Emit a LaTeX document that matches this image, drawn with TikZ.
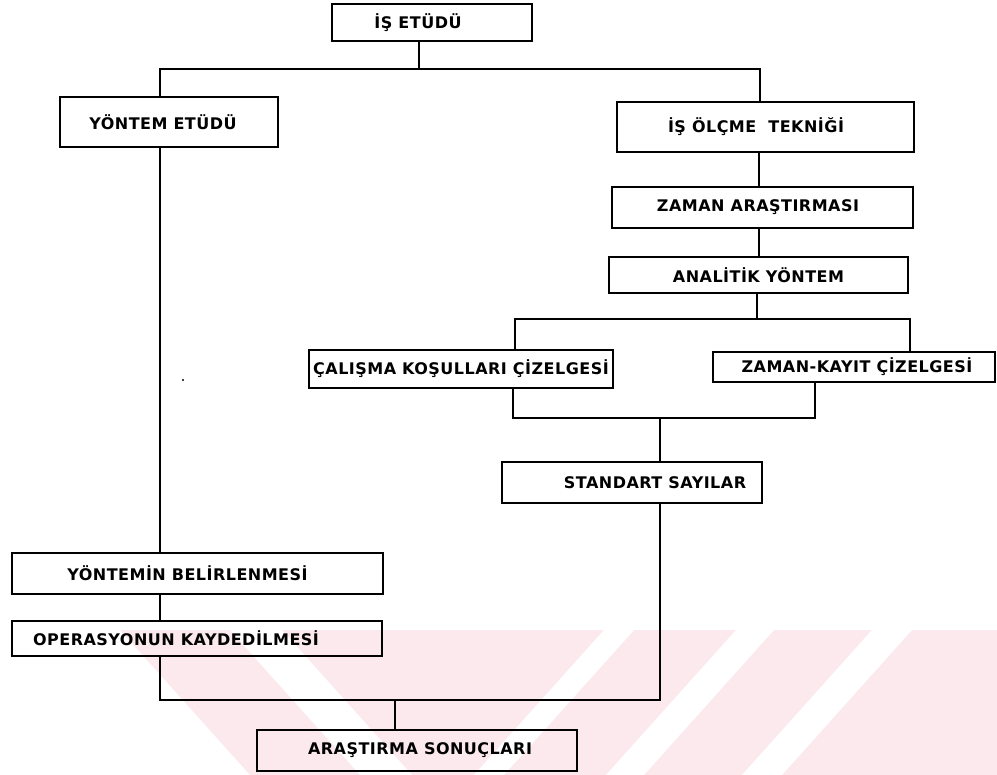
\documentclass[tikz,border=0pt]{standalone}
\usepackage{fontspec}
\setmainfont{DejaVu Sans}[LetterSpace=3]
\usetikzlibrary{calc}
\definecolor{wm}{RGB}{252,233,238}
\tikzset{
  box/.style={draw, line width=2.8pt, rectangle, inner sep=0pt,
    font=\fontsize{16}{19}\selectfont\bfseries},
  conn/.style={line width=2.2pt},
}
\begin{document}
\begin{tikzpicture}[x=1pt,y=-1pt]
\useasboundingbox (0,0) rectangle (997,775);
% watermark (faint)
\begin{scope}
  \clip (0,630) rectangle (997,775);
  \fill[wm] (120,630) -- (997,630) -- (997,775) -- (250,775) -- cycle;
  \fill[white] (230,630) -- (282,630) -- (412,775) -- (360,775) -- cycle;
  \fill[white] (604,630) -- (634,630) -- (504,775) -- (474,775) -- cycle;
  \fill[white] (736,630) -- (774,630) -- (644,775) -- (606,775) -- cycle;
  \fill[white] (872,630) -- (912,630) -- (782,775) -- (742,775) -- cycle;
\end{scope}

% boxes
\node[box, minimum width=200pt, minimum height=37pt] (A) at (432,22.5) {\hspace*{-28pt}İŞ ETÜDÜ};
\node[box, minimum width=218pt, minimum height=50pt] (B) at (169,122) {\hspace*{-12pt}YÖNTEM ETÜDÜ};
\node[box, minimum width=297pt, minimum height=50pt] (C) at (765.5,127) {\hspace*{-19pt}İŞ ÖLÇME\ \ TEKNİĞİ};
\node[box, minimum width=301pt, minimum height=41pt] (D) at (762.5,207.5) {\hspace*{-9pt}ZAMAN ARAŞTIRMASI};
\node[box, minimum width=299pt, minimum height=36pt] (E) at (758.5,275) {ANALİTİK YÖNTEM};
\node[box, minimum width=304pt, minimum height=38pt] (F) at (461,369) {ÇALIŞMA KOŞULLARI ÇİZELGESİ};
\node[box, minimum width=282pt, minimum height=30pt] (G) at (854,367) {\hspace*{6pt}ZAMAN-KAYIT ÇİZELGESİ};
\node[box, minimum width=260pt, minimum height=41pt] (H) at (632,482.5) {\hspace*{46pt}STANDART SAYILAR};
\node[box, minimum width=371pt, minimum height=41pt] (I) at (197.5,573.5) {\hspace*{-20pt}YÖNTEMİN BELİRLENMESİ};
\node[box, minimum width=370pt, minimum height=35pt] (J) at (197,638.5) {\hspace*{-42pt}OPERASYONUN KAYDEDİLMESİ};
\node[box, minimum width=320pt, minimum height=41pt] (K) at (417,750.5) {\hspace*{6pt}ARAŞTIRMA SONUÇLARI};

% junction points
\coordinate (a1) at (419,69);
\coordinate (hL) at (160,69);
\coordinate (hR) at (760,69);
\coordinate (c1) at (759,0);
\coordinate (e1) at (757,319);
\coordinate (fL) at (515,319);
\coordinate (gR) at (910,319);
\coordinate (f2) at (513,418);
\coordinate (g2) at (815,418);
\coordinate (h1) at (660,418);
\coordinate (h2) at (660,700);
\coordinate (l2) at (160,700);
\coordinate (k1) at (395,700);

% connectors
\draw[conn] (A.south -| a1) -- (a1);
\draw[conn] (B.north -| hL) -- (hL) -- (hR) -- (C.north -| hR);
\draw[conn] (C.south -| c1) -- (D.north -| c1);
\draw[conn] (D.south -| c1) -- (E.north -| c1);
\draw[conn] (E.south -| e1) -- (e1);
\draw[conn] (F.north -| fL) -- (fL) -- (gR) -- (G.north -| gR);
\draw[conn] (F.south -| f2) -- (f2) -- (g2) -- (G.south -| g2);
\draw[conn] (h1) -- (H.north -| h1);
\draw[conn] (H.south -| h2) -- (h2) -- (l2) -- (J.south -| l2);
\draw[conn] (B.south -| l2) -- (I.north -| l2);
\draw[conn] (I.south -| l2) -- (J.north -| l2);
\draw[conn] (k1) -- (K.north -| k1);

% stray mark
\fill (183,380) circle (1.2pt);
\end{tikzpicture}
\end{document}
